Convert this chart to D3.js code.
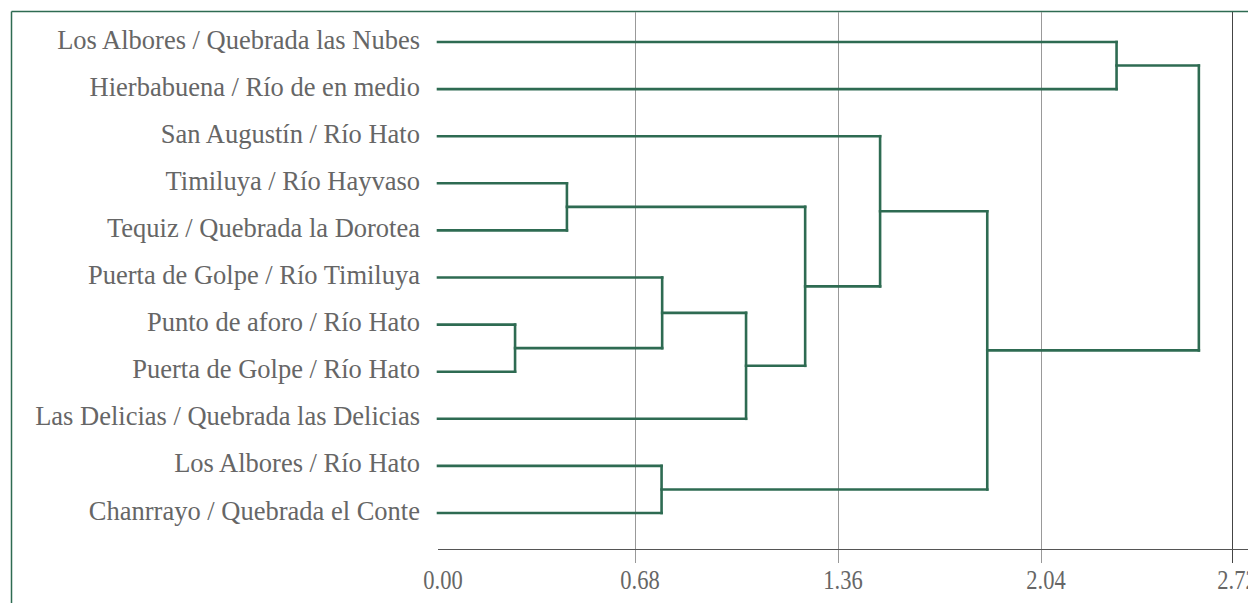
<!DOCTYPE html>
<html>
<head>
<meta charset="utf-8">
<script src="https://cdn.jsdelivr.net/npm/d3@7"></script>
<style>
  body { margin: 0; background: #fff; }
  svg { display: block; }
</style>
</head>
<body>
<svg width="1248" height="603"></svg>
<script>
// leaf order top to bottom
var leaves = [
    "Los Albores / Quebrada las Nubes",
    "Hierbabuena / Río de en medio",
    "San Augustín / Río Hato",
    "Timiluya / Río Hayvaso",
    "Tequiz / Quebrada la Dorotea",
    "Puerta de Golpe / Río Timiluya",
    "Punto de aforo / Río Hato",
    "Puerta de Golpe / Río Hato",
    "Las Delicias / Quebrada las Delicias",
    "Los Albores / Río Hato",
    "Chanrrayo / Quebrada el Conte"
];

// merges: [child a, child b, height]; leaves are 0..10, merge k is node 11+k
var merges = [
    [6, 7, 0.266],
    [3, 4, 0.445],
    [9, 10, 0.769],
    [5, 11, 0.771],
    [14, 8, 1.052],
    [12, 15, 1.250],
    [2, 16, 1.501],
    [17, 13, 1.860],
    [0, 1, 2.309],
    [19, 18, 2.602]
];

var tickValues = [0, 0.68, 1.36, 2.04, 2.72];
var tickLabels = ["0.00", "0.68", "1.36", "2.04", "2.72"];

var green = "#2e6b52";
var font = "'Liberation Serif', 'Times New Roman', serif";
var svg = d3.select("svg");

// axis positions in the original are a bit uneven, so use a polylinear scale
var x = d3.scaleLinear()
        .domain(tickValues)
        .range([438, 635, 838, 1041, 1232]);

var y = d3.scalePoint()
        .domain(d3.range(leaves.length))
        .range([42, 513]);

// frame
svg.append("line")
        .attr("x1", 11.5).attr("x2", 1248)
        .attr("y1", 11.5).attr("y2", 11.5)
        .style("stroke", green).style("stroke-width", "1.5px");
svg.append("line")
        .attr("x1", 11.5).attr("x2", 11.5)
        .attr("y1", 11.5).attr("y2", 603)
        .style("stroke", green).style("stroke-width", "1.5px");

var axisY = 549;

// gridlines + ticks
svg.selectAll(".grid")
        .data(tickValues.slice(1))
        .enter()
        .append("line")
        .attr("class", "grid")
        .attr("x1", function(d){return Math.round(x(d)) + 0.5;})
        .attr("x2", function(d){return Math.round(x(d)) + 0.5;})
        .attr("y1", 12)
        .attr("y2", axisY + 14)
        .style("stroke", function(d, i){return i === 3 ? "#444" : "#999";})
        .style("stroke-width", "1px");

svg.append("line")
        .attr("x1", x(0)).attr("x2", 1248)
        .attr("y1", axisY + 0.5).attr("y2", axisY + 0.5)
        .style("stroke", "#555")
        .style("stroke-width", "1px");

// tick labels are a bit condensed in the original
svg.selectAll(".tick-label")
        .data(tickValues)
        .enter()
        .append("text")
        .attr("class", "tick-label")
        .attr("transform", function(d){return "translate(" + (x(d) + 5) + ",589) scale(0.85,1)";})
        .attr("text-anchor", "middle")
        .style("font-family", font)
        .style("font-size", "26.5px")
        .style("fill", "#666")
        .text(function(d, i){return tickLabels[i];});

// build node positions
var nodes = leaves.map(function(name, i) {
    return {name: name, h: 0, y: y(i)};
});
merges.forEach(function(m) {
    var a = nodes[m[0]], b = nodes[m[1]];
    var n = {h: m[2], y: (a.y + b.y) / 2, children: [a, b]};
    nodes.push(n);
});

var segs = [];
nodes.forEach(function(n) {
    if (!n.children) return;
    var a = n.children[0], b = n.children[1];
    segs.push([x(a.h), a.y, x(n.h), a.y]);
    segs.push([x(b.h), b.y, x(n.h), b.y]);
    segs.push([x(n.h), a.y, x(n.h), b.y]);
});

svg.append("g")
        .selectAll("line")
        .data(segs)
        .enter()
        .append("line")
        .attr("x1", function(d){return d[0];})
        .attr("y1", function(d){return d[1];})
        .attr("x2", function(d){return d[2];})
        .attr("y2", function(d){return d[3];})
        .style("stroke", green)
        .style("stroke-width", "2.6px")
        .style("stroke-linecap", "square");

svg.selectAll(".leaf-label")
        .data(leaves)
        .enter()
        .append("text")
        .attr("class", "leaf-label")
        .attr("x", 420)
        .attr("y", function(d, i){return y(i) + 6.5;})
        .attr("text-anchor", "end")
        .style("font-family", font)
        .style("font-size", "26.5px")
        .style("fill", "#666")
        .text(function(d){return d;});
</script>
</body>
</html>
